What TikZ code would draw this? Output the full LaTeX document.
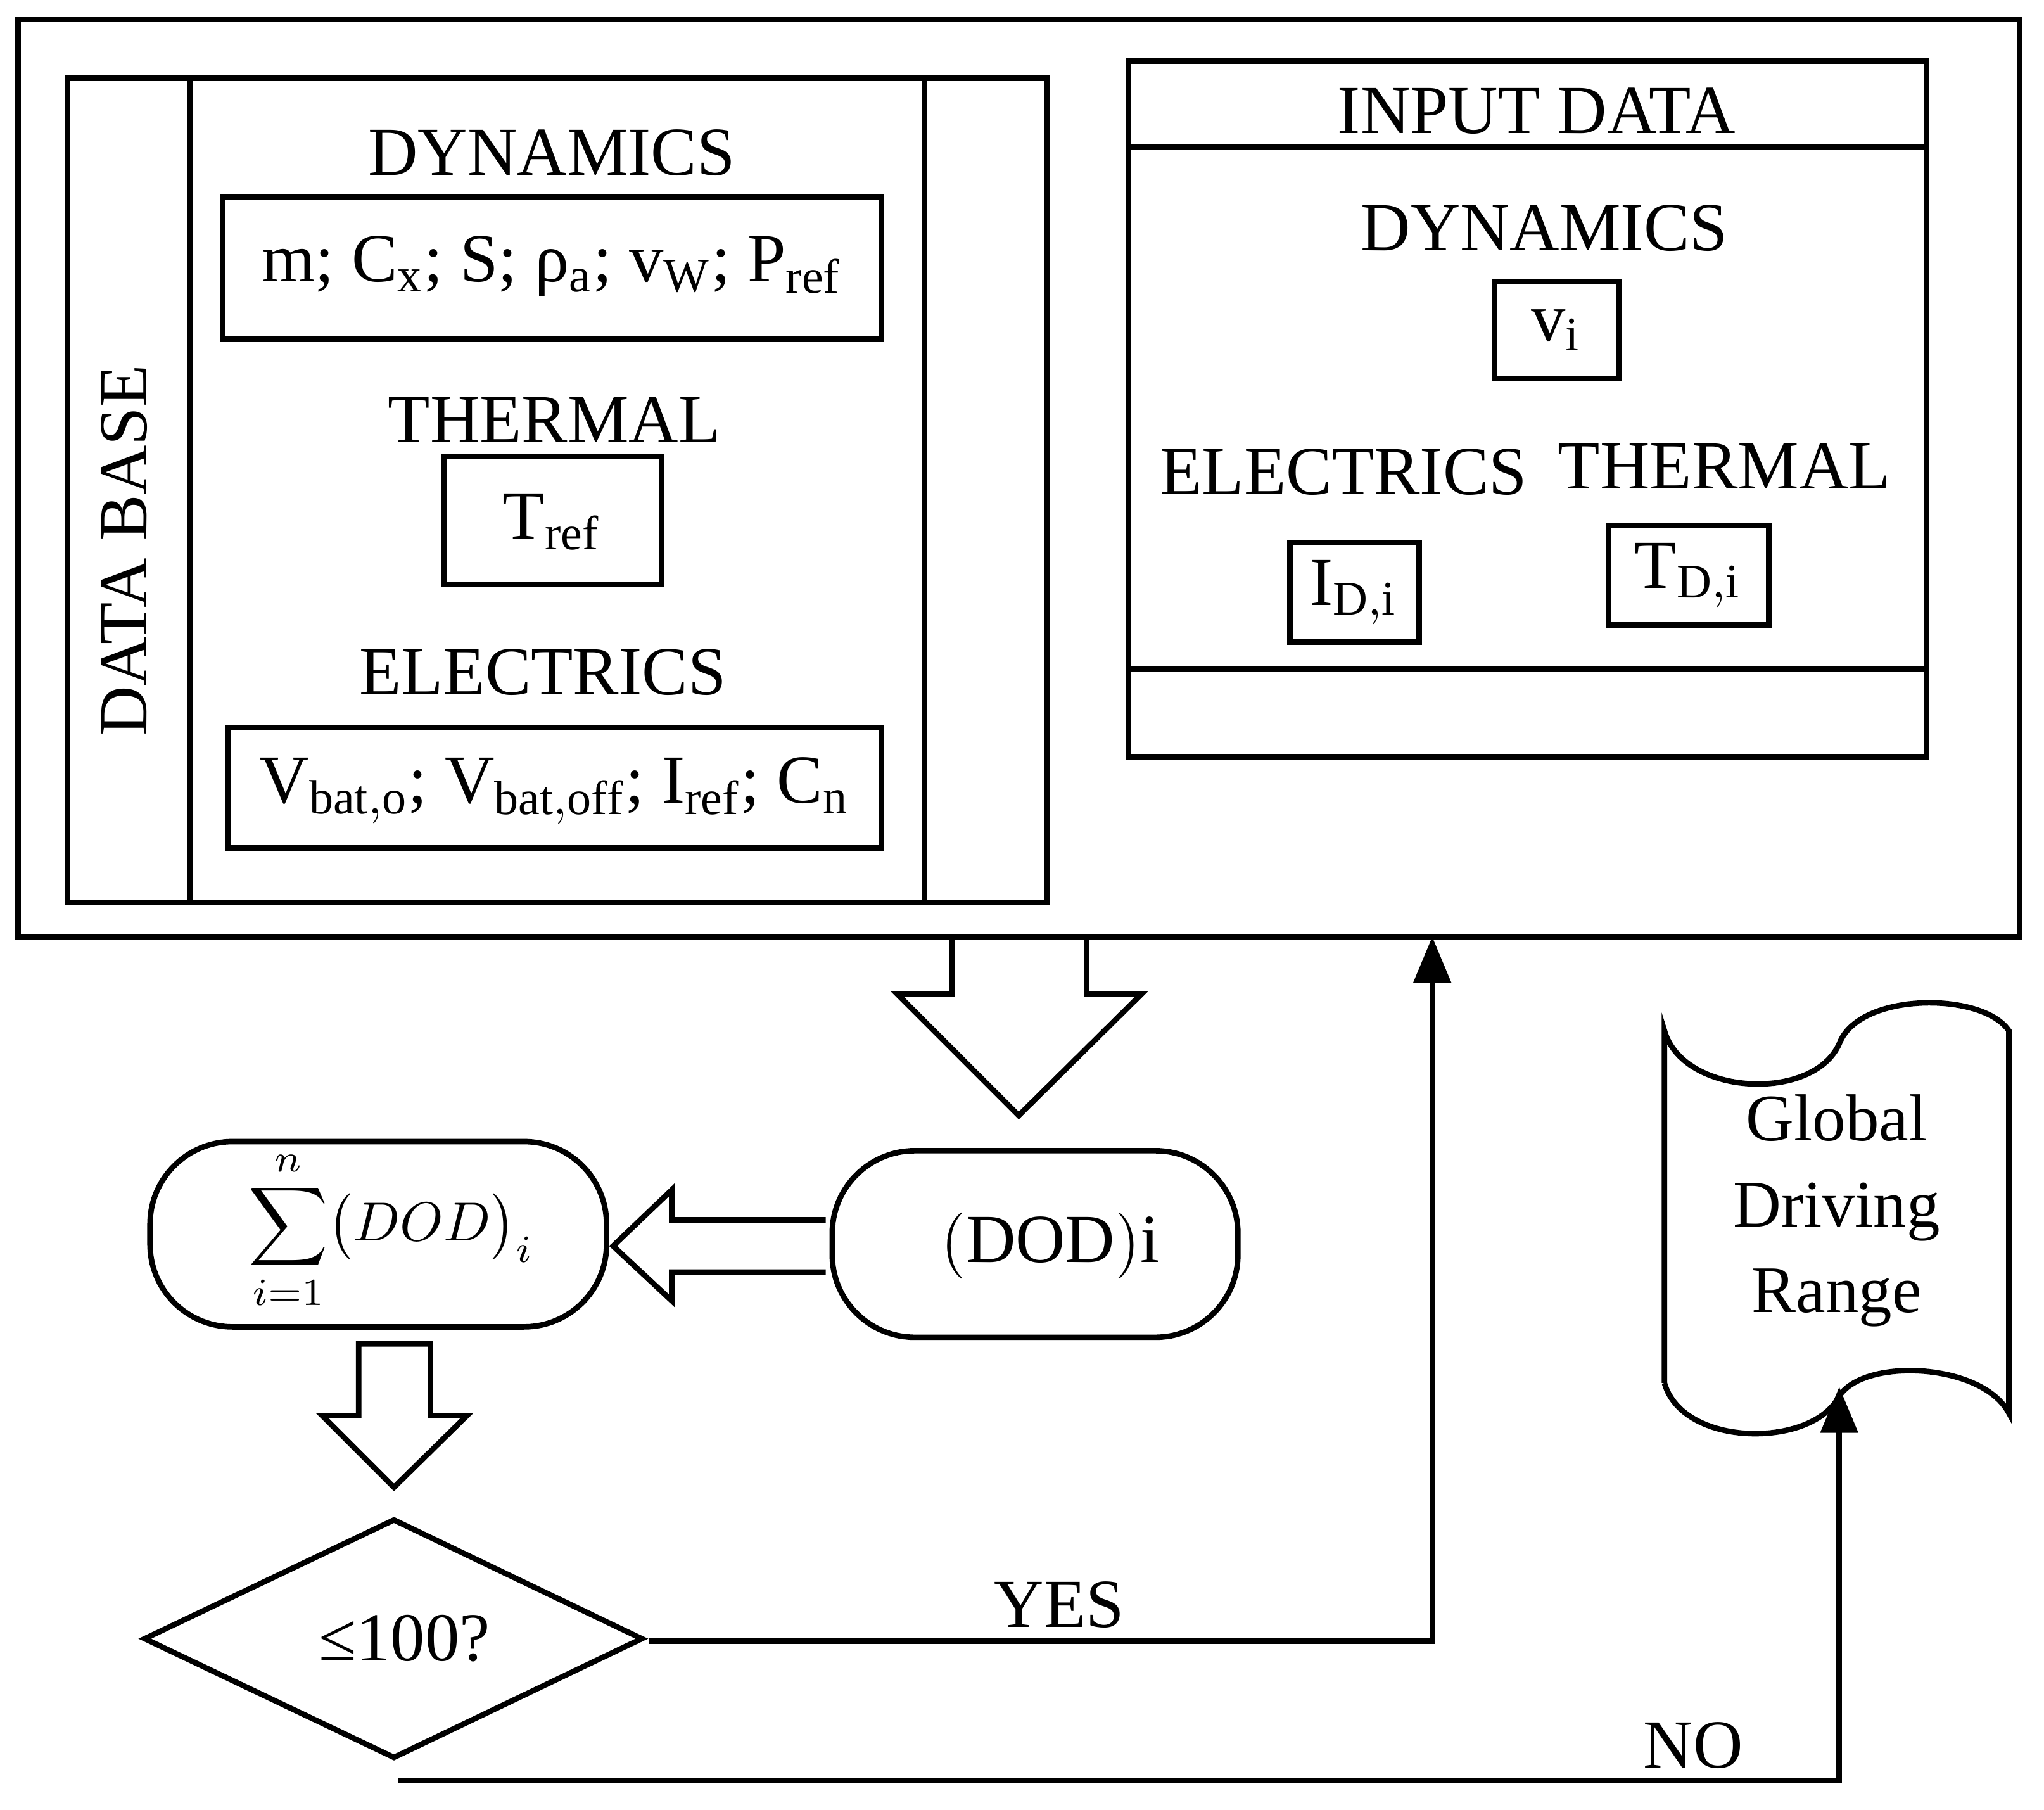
\documentclass[tikz,border=0pt]{standalone}
\usepackage{fontspec}
\setmainfont{Liberation Serif}
\usetikzlibrary{shapes.geometric,arrows.meta}
\begin{document}
\begin{tikzpicture}[x=0.01cm,y=-0.01cm,line width=1.2pt,
  txt/.style={font=\fontsize{15}{18}\selectfont,inner sep=0},
  arr/.style={-{Triangle[length=10pt,width=8pt]}}]
\useasboundingbox (0,0) rectangle (1567,1387);
\draw (14,15) rectangle (1548,718);
% database
\draw (52,60) rectangle (803,692);
\draw (146,60) -- (146,692) (709,60) -- (709,692);
\node[txt,rotate=90] (db) at (95,422) {DATA BASE};
\node[txt] (dyn) at (423,117) {DYNAMICS};
\draw (171,151) rectangle (676,260);
\node[txt] (dynv) at (423,204) {m; C$_\mathrm{x}$; S; ρ$_\mathrm{a}$; v$_\mathrm{W}$; P$_\mathrm{ref}$};
\node[txt] (th) at (425,322) {THERMAL};
\draw (340,350) rectangle (507,448);
\node[txt] (thv) at (423,400) {T$_\mathrm{ref}$};
\node[txt] (el) at (416,515) {ELECTRICS};
\draw (175,558) rectangle (676,650);
\node[txt] (elv) at (425,606) {V$_\mathrm{bat,o}$; V$_\mathrm{bat,off}$; I$_\mathrm{ref}$; C$_\mathrm{n}$};
% input data
\draw (865,47) rectangle (1477,580);
\draw (865,113) -- (1477,113) (865,513) -- (1477,513);
\node[txt] (in) at (1178,85) {INPUT DATA};
\node[txt] (dyn2) at (1184,175) {DYNAMICS};
\draw (1146,216) rectangle (1241,290);
\node[txt] (vi) at (1193,253) {v$_\mathrm{i}$};
\node[txt] (el2) at (1030,362) {ELECTRICS};
\node[txt] (th2) at (1322,357) {THERMAL};
\draw (989,416) rectangle (1088,492);
\node[txt] (id) at (1038,454) {I$_\mathrm{D,i}$};
\draw (1233,403) rectangle (1356,479);
\node[txt] (td) at (1294,441) {T$_\mathrm{D,i}$};
% big arrow down
\draw (730,718) -- (730,762) -- (688,762) -- (781,855) -- (875,762) -- (833,762) -- (833,718);
% DOD box
\draw[rounded corners=18] (638,882) rectangle (949,1025);
\node[txt] (dod) at (805,955) {$\big($DOD$\big)$i};
% sum box
\draw[rounded corners=18] (115,875) rectangle (465,1017);
\node[inner sep=0] (sum) at (300,943) {\scalebox{1.2}{$\displaystyle\sum_{i=1}^{n}\bigl(DOD\bigr)_i$}};
% left arrow
\draw (633,935) -- (515,935) -- (515,912) -- (470,955) -- (515,997) -- (515,975) -- (633,975);
% down arrow
\draw (275,1030) -- (330,1030) -- (330,1085) -- (358,1085) -- (302,1140) -- (247,1085) -- (275,1085) -- cycle;
% diamond
\draw (111,1256) -- (302,1165) -- (492,1256) -- (302,1347) -- cycle;
\node[txt] (le) at (310,1256) {≤100?};
\coordinate (yesS) at (497,1258);
\coordinate (yesE) at (1098,718);
\draw[arr] (yesS) -- (1098,1258) -- (yesE);
\node[txt] (yes) at (812,1230) {YES};
\coordinate (noS) at (305,1365);
\coordinate (noE) at (1410,1063);
\draw[arr] (noS) -- (1410,1365) -- (noE);
\node[txt] (no) at (1298,1338) {NO};
% document shape
\draw (1276,1060) -- (1276,790) .. controls (1290,840) and (1390,845) .. (1410,800)
  .. controls (1425,760) and (1520,760) .. (1540,790) -- (1540,1083)
  .. controls (1520,1045) and (1430,1040) .. (1410,1070)
  .. controls (1390,1110) and (1290,1110) .. (1276,1060);
\node[txt,align=center,font=\fontsize{14.5}{18}\selectfont] (gdr) at (1408,928) {Global\\[0.05em]Driving\\[0.05em]Range};
\end{tikzpicture}
\end{document}
